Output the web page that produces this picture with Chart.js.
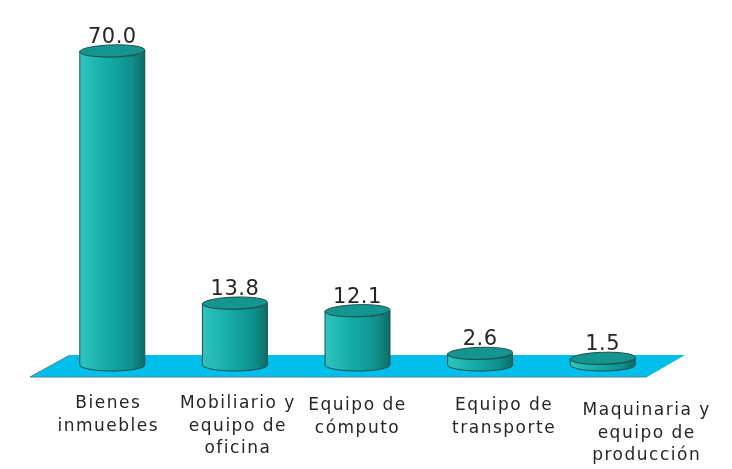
<!DOCTYPE html>
<html>
<head>
<meta charset="utf-8">
<script src="https://cdn.jsdelivr.net/npm/chart.js@4/dist/chart.umd.min.js"></script>
<style>
  html, body { margin: 0; padding: 0; background: #ffffff; }
  #chart { display: block; }
</style>
</head>
<body>
<canvas id="chart" width="732" height="469"></canvas>
<script>
// Data
const categories = [
    ['Bienes', 'inmuebles'],
    ['Mobiliario y', 'equipo de', 'oficina'],
    ['Equipo de', 'cómputo'],
    ['Equipo de', 'transporte'],
    ['Maquinaria y', 'equipo de', 'producción']
];
const values = [70.0, 13.8, 12.1, 2.6, 1.5];
const valueLabels = ['70.0', '13.8', '12.1', '2.6', '1.5'];

// Layout tweaks for the category labels (pixels)
const labelShiftX = [-4, 3, 0, 24, 44];
const labelShiftY = [0, 0, 2, 2, 7];

const RY = 6; // ellipse half height of cylinder caps

// Floor parallelogram under the cylinders
const floorPlugin = {
    id: 'floor',
    beforeDatasetsDraw(chart) {
        const ctx = chart.ctx;
        const area = chart.chartArea;
        const base = chart.scales.y.getPixelForValue(0);
        ctx.save();
        ctx.beginPath();
        ctx.moveTo(area.left + 19, base - 10);
        ctx.lineTo(area.right + 21, base - 10);
        ctx.lineTo(area.right - 17, base + 12);
        ctx.lineTo(area.left - 21, base + 12);
        ctx.closePath();
        ctx.fillStyle = '#00bfea';
        ctx.fill();
        ctx.strokeStyle = '#4a8396';
        ctx.lineWidth = 1;
        ctx.beginPath();
        ctx.moveTo(area.left + 19, base - 10);
        ctx.lineTo(area.left - 21, base + 12);
        ctx.lineTo(area.right - 17, base + 12);
        ctx.stroke();
        ctx.restore();
    }
};

// Draw each bar as a cylinder using the bar element geometry
const cylinderPlugin = {
    id: 'cylinders',
    afterDatasetsDraw(chart) {
        const ctx = chart.ctx;
        const meta = chart.getDatasetMeta(0);
        meta.data.forEach(function(bar, i) {
            const p = bar.getProps(['x', 'y', 'base', 'width'], true);
            const rx = p.width / 2;
            const left = p.x - rx;
            const right = p.x + rx;
            const top = p.y;
            const bottom = p.base;

            ctx.save();
            // body
            const grad = ctx.createLinearGradient(left, 0, right, 0);
            grad.addColorStop(0, '#2ec3bf');
            grad.addColorStop(0.45, '#13aaa6');
            grad.addColorStop(0.8, '#0f8f8b');
            grad.addColorStop(1, '#0b6d69');
            ctx.beginPath();
            ctx.moveTo(left, top);
            ctx.lineTo(left, bottom);
            ctx.ellipse(p.x, bottom, rx, RY, 0, Math.PI, 0, true);
            ctx.lineTo(right, top);
            ctx.ellipse(p.x, top, rx, RY, 0, 0, Math.PI, false);
            ctx.closePath();
            ctx.fillStyle = grad;
            ctx.fill();
            ctx.strokeStyle = '#1d4f4d';
            ctx.lineWidth = 1;
            ctx.stroke();

            // top cap
            ctx.beginPath();
            ctx.ellipse(p.x, top, rx, RY, -0.03, 0, Math.PI * 2);
            ctx.fillStyle = '#14958f';
            ctx.fill();
            ctx.stroke();

            // value label
            ctx.fillStyle = '#262626';
            ctx.font = '21px "DejaVu Sans"';
            ctx.textAlign = 'center';
            ctx.textBaseline = 'alphabetic';
            ctx.letterSpacing = '0.5px';
            ctx.fillText(valueLabels[i], p.x, top - RY - 2);

            // category label
            ctx.font = '17px "DejaVu Sans"';
            ctx.letterSpacing = '1.5px';
            ctx.textBaseline = 'middle';
            categories[i].forEach(function(line, k) {
                ctx.fillText(line, p.x + labelShiftX[i], 404 + labelShiftY[i] + k * 22.5);
            });
            ctx.restore();
        });
    }
};

new Chart(document.getElementById('chart'), {
    type: 'bar',
    data: {
        labels: categories.map(c => c.join(' ')),
        datasets: [{
            data: values,
            backgroundColor: 'rgba(0,0,0,0)',
            borderWidth: 0,
            barPercentage: 0.53,
            categoryPercentage: 1.0
        }]
    },
    options: {
        responsive: false,
        animation: false,
        layout: {
            padding: { left: 51, right: 68, top: 6, bottom: 104 }
        },
        plugins: {
            legend: { display: false },
            tooltip: { enabled: false }
        },
        scales: {
            x: { display: false },
            y: { display: false, min: 0, max: 80 }
        }
    },
    plugins: [floorPlugin, cylinderPlugin]
});
</script>
</body>
</html>
